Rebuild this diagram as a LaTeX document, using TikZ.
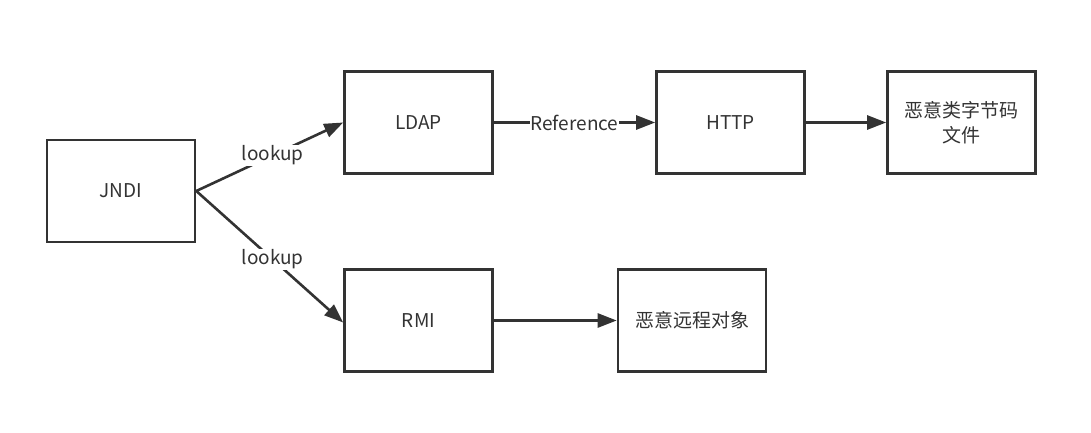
\documentclass[tikz,border=0pt]{standalone}
\usepackage{fontspec}
\setmainfont{Noto Sans CJK SC}
\usetikzlibrary{arrows.meta}
\definecolor{ink}{HTML}{333333}
\tikzset{
  box/.style={draw=ink, line width=2.6pt, minimum width=148pt, minimum height=102pt, inner sep=0pt, text=ink, font=\fontsize{19}{25}\selectfont, align=center},
  conn/.style={draw=ink, line width=2.6pt, -{Triangle[length=19pt,width=14pt]}},
  lbl/.style={fill=white, text=ink, inner sep=1pt, font=\fontsize{19}{25}\selectfont}
}
\begin{document}
\begin{tikzpicture}[x=1pt,y=-1pt]
\useasboundingbox (0,0) rectangle (1091,433);
\node[box] (jndi) at (121,191) {JNDI};
\node[box] (ldap) at (418.5,122.5) {LDAP};
\node[box] (http) at (730.5,122.5) {HTTP};
\node[box] (cls) at (961.5,122.5) {恶意类字节码\\文件};
\node[box] (rmi) at (418.5,320.5) {RMI};
\node[box] (obj) at (692,320.5) {恶意远程对象};
\draw[conn] (jndi.east) -- node[lbl, pos=0.52] {lookup} (ldap.west);
\draw[conn] (jndi.east) -- node[lbl, pos=0.52] {lookup} ([yshift=-2pt]rmi.west);
\draw[conn] (ldap.east) -- node[lbl] {Reference} (http.west);
\draw[conn] (http.east) -- (cls.west);
\draw[conn] (rmi.east) -- (obj.west);
\end{tikzpicture}
\end{document}
